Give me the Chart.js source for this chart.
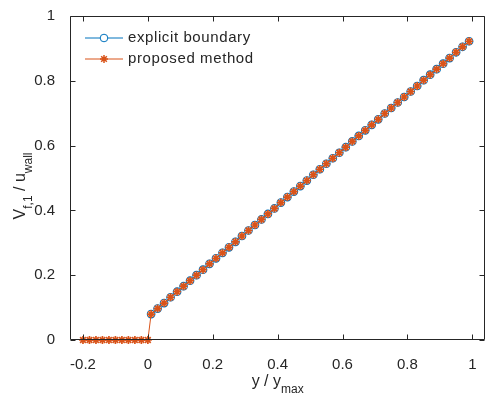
<!DOCTYPE html>
<html>
<head>
<meta charset="utf-8">
<script src="https://cdn.jsdelivr.net/npm/chart.js@4.4.1/dist/chart.umd.min.js"></script>
<style>
  html, body { margin: 0; padding: 0; background: #fff; }
  #wrap { width: 491px; height: 402px; position: relative; }
</style>
</head>
<body>
<div id="wrap"><canvas id="chart"></canvas></div>
<script>
// data
const wallX = [-0.2, -0.18, -0.16, -0.14, -0.12, -0.1, -0.08, -0.06, -0.04, -0.02, 0];
const wallV = [0, 0, 0, 0, 0, 0, 0, 0, 0, 0, 0];

const fluidX = [0.01, 0.03, 0.05, 0.07, 0.09, 0.11, 0.13, 0.15, 0.17, 0.19,
                0.21, 0.23, 0.25, 0.27, 0.29, 0.31, 0.33, 0.35, 0.37, 0.39,
                0.41, 0.43, 0.45, 0.47, 0.49, 0.51, 0.53, 0.55, 0.57, 0.59,
                0.61, 0.63, 0.65, 0.67, 0.69, 0.71, 0.73, 0.75, 0.77, 0.79,
                0.81, 0.83, 0.85, 0.87, 0.89, 0.91, 0.93, 0.95, 0.97, 0.99];
const explicitV = [0.080, 0.097, 0.114, 0.132, 0.149, 0.166, 0.183, 0.200, 0.217, 0.235,
                   0.252, 0.269, 0.286, 0.303, 0.321, 0.338, 0.355, 0.372, 0.389, 0.406,
                   0.424, 0.441, 0.458, 0.475, 0.492, 0.510, 0.527, 0.544, 0.561, 0.578,
                   0.595, 0.613, 0.630, 0.647, 0.664, 0.681, 0.699, 0.716, 0.733, 0.750,
                   0.767, 0.784, 0.802, 0.819, 0.836, 0.853, 0.870, 0.888, 0.905, 0.922];
// proposed method: same values in the fluid, zero in the wall
const proposedV = explicitV.slice();

const xTicks = [-0.2, 0, 0.2, 0.4, 0.6, 0.8, 1];
const yTicks = [0, 0.2, 0.4, 0.6, 0.8, 1];

const seriesNames = ['explicit boundary', 'proposed method'];
const xLabel = [['y / y', false], ['max', true]];
const yLabel = [['V', false], ['f,1', true], [' / u', false], ['wall', true]];

const BLUE = '#0072BD';
const ORANGE = '#D95319';
const AXIS = '#262626';
const FONT = "'Liberation Sans', Arial, Helvetica, sans-serif";

const toPts = (xs, ys) => xs.map((x, i) => ({ x: x, y: ys[i] }));

// text with subscripts, centred on (cx, cy)
function drawSubText(ctx, parts, cx, cy, angle, size) {
    const subSize = Math.round(size * 0.75);
    ctx.save();
    ctx.translate(cx, cy);
    ctx.rotate(angle);
    ctx.textBaseline = 'alphabetic';
    ctx.textAlign = 'left';
    let total = 0;
    parts.forEach(p => {
        ctx.font = (p[1] ? subSize : size) + 'px ' + FONT;
        total += ctx.measureText(p[0]).width;
    });
    let x = -total / 2;
    parts.forEach(p => {
        ctx.font = (p[1] ? subSize : size) + 'px ' + FONT;
        ctx.fillText(p[0], x, p[1] ? size * 0.45 : 0);
        x += ctx.measureText(p[0]).width;
    });
    ctx.restore();
}

const matlabAxes = {
    id: 'matlabAxes',
    afterDraw(chart) {
        const ctx = chart.ctx;
        const a = chart.chartArea;
        const xs = chart.scales.x, ys = chart.scales.y;
        const tl = 5;
        ctx.save();
        ctx.strokeStyle = AXIS;
        ctx.lineWidth = 1;
        const L = Math.round(a.left) + 0.5, R = Math.round(a.right) - 0.5;
        const T = Math.round(a.top) + 0.5, B = Math.round(a.bottom) - 0.5;
        ctx.beginPath();
        ctx.rect(L, T, R - L, B - T);
        xTicks.forEach(v => {
            const px = Math.round(xs.getPixelForValue(v)) + 0.5;
            ctx.moveTo(px, B); ctx.lineTo(px, B - tl);
            ctx.moveTo(px, T); ctx.lineTo(px, T + tl);
        });
        yTicks.forEach(v => {
            const py = Math.round(ys.getPixelForValue(v)) + 0.5;
            ctx.moveTo(L, py); ctx.lineTo(L + tl, py);
            ctx.moveTo(R, py); ctx.lineTo(R - tl, py);
        });
        ctx.stroke();

        // axis titles
        ctx.fillStyle = AXIS;
        drawSubText(ctx, xLabel, (a.left + a.right) / 2, 386, 0, 16);
        drawSubText(ctx, yLabel, 25, 186, -Math.PI / 2, 16);

        // legend (no box)
        const rows = [
            { color: BLUE, style: 'circle', r: 3.8, bw: 1, y: 38 },
            { color: ORANGE, style: 'star', r: 4, bw: 1.5, y: 59 }
        ];
        rows.forEach((row, i) => {
            ctx.strokeStyle = row.color;
            ctx.lineWidth = 1;
            ctx.beginPath();
            ctx.moveTo(85, row.y); ctx.lineTo(123, row.y);
            ctx.stroke();
            ctx.fillStyle = '#fff';
            ctx.lineWidth = row.bw;
            Chart.helpers.drawPoint(ctx, { pointStyle: row.style, radius: row.r, rotation: 0, borderWidth: row.bw }, 104, row.y);
            ctx.fillStyle = AXIS;
            ctx.font = '15px ' + FONT;
            ctx.letterSpacing = '0.6px';
            ctx.textBaseline = 'middle';
            ctx.textAlign = 'left';
            ctx.fillText(seriesNames[i], 128, row.y);
            ctx.letterSpacing = '0px';
        });
        ctx.restore();
    }
};

const tickFmt = v => String(+Number(v).toFixed(1));

new Chart(document.getElementById('chart'), {
    type: 'scatter',
    data: {
        datasets: [
            {
                label: seriesNames[0],
                data: toPts(fluidX, explicitV),
                showLine: true,
                borderColor: BLUE,
                borderWidth: 1,
                backgroundColor: 'rgba(0,0,0,0)',
                pointStyle: 'circle',
                pointRadius: 3.8,
                pointBorderWidth: 1.1,
                pointBorderColor: BLUE,
                clip: false,
                order: 2
            },
            {
                label: seriesNames[1],
                data: toPts(wallX.concat(fluidX), wallV.concat(proposedV)),
                showLine: true,
                borderColor: ORANGE,
                borderWidth: 1,
                backgroundColor: ORANGE,
                pointStyle: 'star',
                pointRadius: 4,
                pointBorderWidth: 1.7,
                pointBorderColor: ORANGE,
                clip: false,
                order: 1
            }
        ]
    },
    options: {
        responsive: true,
        maintainAspectRatio: false,
        animation: false,
        layout: { padding: { left: 0, right: 4, top: 14, bottom: 0 } },
        plugins: {
            legend: { display: false },
            tooltip: { enabled: false }
        },
        scales: {
            x: {
                type: 'linear',
                min: -0.24,
                max: 1.04,
                grid: { display: false },
                border: { display: false },
                afterBuildTicks: s => { s.ticks = xTicks.map(v => ({ value: v })); },
                afterFit: s => { s.height = 62; },
                ticks: {
                    color: AXIS,
                    padding: 8,
                    maxRotation: 0,
                    font: { family: FONT, size: 15 },
                    callback: tickFmt
                }
            },
            y: {
                type: 'linear',
                min: 0,
                max: 1,
                grid: { display: false },
                border: { display: false },
                afterBuildTicks: s => { s.ticks = yTicks.map(v => ({ value: v })); },
                afterFit: s => { s.width = 70; },
                ticks: {
                    color: AXIS,
                    padding: 7,
                    font: { family: FONT, size: 15 },
                    callback: tickFmt
                }
            }
        }
    },
    plugins: [matlabAxes]
});
</script>
</body>
</html>
